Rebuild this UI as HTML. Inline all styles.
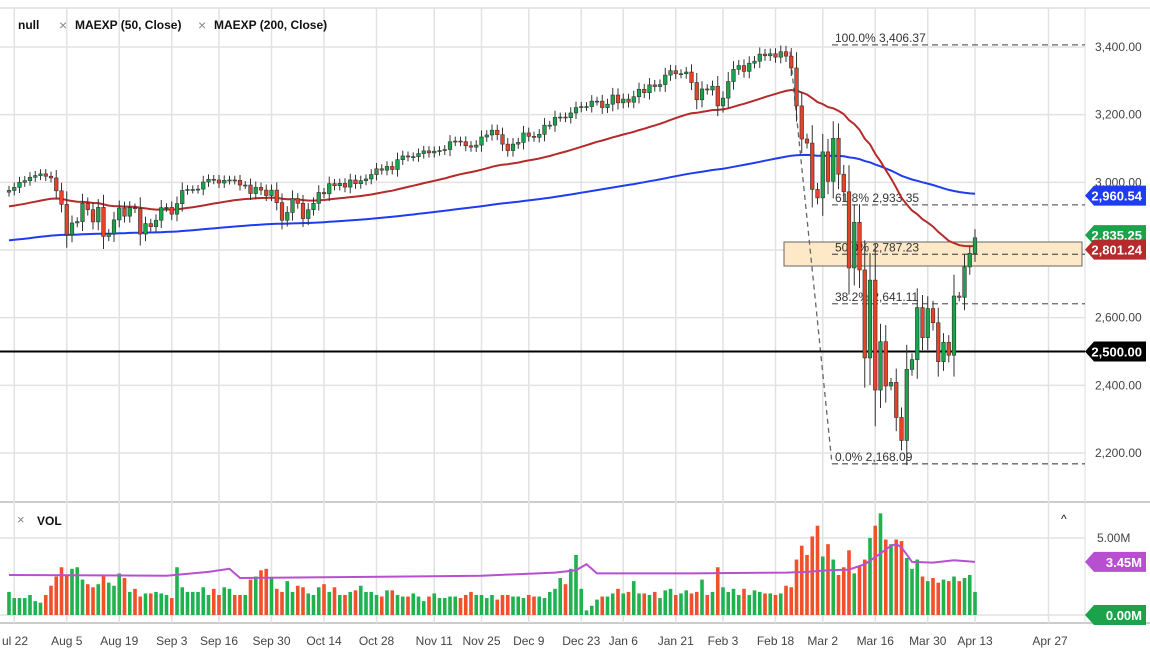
<!DOCTYPE html>
<html><head><meta charset="utf-8"><style>
body{margin:0;background:#fff;}
svg{display:block;font-family:"Liberation Sans",sans-serif;}
</style></head><body>
<svg id="c" width="1150" height="655"></svg>
<script>
const closes=[2976,2985,3000,3005,3015,3020,3025,3018,3013,2975,2935,
2845,2880,2884,2938,2919,2883,2926,2840,2848,2889,2924,2900,2925,2922,2847,2878,2869,2888,2925,2926,
2906,2937,2976,2979,2979,2980,3001,3009,3007,2998,3006,3007,3006,2992,2992,2967,2985,2977,2961,2977,
2940,2888,2911,2952,2938,2893,2919,2938,2970,2966,2996,2990,2997,2986,3007,2996,3005,3010,3023,3040,3036,3047,3038,
3067,3078,3075,3076,3085,3093,3087,3092,3094,3097,3120,3122,3120,3108,3104,3110,3134,3140,3154,3141,
3113,3094,3113,3118,3146,3136,3133,3142,3169,3169,3192,3193,3191,3205,3221,3224,3224,3240,3240,3221,3231,
3258,3235,3246,3237,3253,3275,3265,3288,3283,3289,3317,3330,3321,3321,3326,3295,3244,3276,3273,3284,3226,
3249,3298,3334,3345,3328,3352,3358,3379,3374,3380,3370,3386,3373,3338,3226,3128,3116,2979,2954,
3090,3003,3130,3024,2972,2747,2882,2741,2481,2711,2386,2529,2398,2409,2305,2237,2447,2476,2630,2541,2627,2585,
2470,2527,2489,2664,2660,2750,2790,2836];
const volumes=[1.5,1.1,1.1,1.1,1.3,0.9,0.8,1.3,1.9,2.5,3.1,
2.6,3.0,3.1,2.3,2.0,1.8,2.0,2.6,2.1,1.9,2.7,2.4,1.5,1.7,1.2,1.4,1.4,1.5,1.4,1.3,
1.1,3.1,1.8,1.5,1.5,1.5,1.8,1.3,1.7,1.3,1.8,1.7,1.3,1.3,1.3,2.3,2.5,2.9,3.0,2.4,
1.7,1.5,2.2,1.5,1.9,1.8,1.4,1.3,1.8,2.0,1.5,1.8,1.3,1.3,1.5,1.6,1.9,1.5,1.5,1.3,1.2,1.6,1.6,
1.3,1.2,1.2,1.4,1.2,0.9,1.2,1.4,1.1,1.1,1.2,1.2,1.1,1.3,1.5,1.3,1.3,1.1,1.3,1.0,
1.3,1.3,1.2,1.2,1.1,1.3,1.2,1.2,1.1,1.5,1.7,2.4,2.0,3.0,3.9,1.7,0.3,0.6,1.0,1.2,1.2,
1.4,1.7,1.4,1.5,2.2,1.4,1.4,1.3,1.5,1.1,1.6,1.7,1.3,1.4,1.6,1.4,1.5,2.3,1.3,1.5,3.1,
1.8,1.5,1.7,1.3,1.7,1.3,1.6,1.5,1.4,1.4,1.3,1.4,1.9,1.8,3.6,4.5,3.9,5.1,5.8,
3.8,4.6,3.6,2.6,3.1,4.2,2.7,3.2,3.6,5.0,5.8,6.6,4.9,4.6,4.9,4.8,3.7,3.0,3.6,2.5,2.2,2.4,
2.1,2.3,2.2,2.5,2.2,2.4,2.6,1.5];
const volMaIdx=[0,30,38,42,44,60,90,104,108,110,112,130,148,152,156,160,163,166,168,169,170,172,176,180,184];
const volMaVal=[2.6,2.55,2.8,3.0,2.4,2.45,2.55,2.75,2.9,3.3,2.7,2.7,2.75,2.8,2.9,2.95,3.3,4.0,4.5,4.6,4.4,3.45,3.4,3.55,3.45];
const ema50Seed=2927, ema200Seed=2827;
const dateLabels=["ul 22","Aug 5","Aug 19","Sep 3","Sep 16","Sep 30","Oct 14","Oct 28","Nov 11","Nov 25","Dec 9","Dec 23","Jan 6","Jan 21","Feb 3","Feb 18","Mar 2","Mar 16","Mar 30","Apr 13","Apr 27"];
const dateIdx=[1,11,21,31,40,50,60,70,81,90,99,109,117,127,136,146,155,165,175,184,198];
const priceTicks=[3400,3200,3000,2800,2600,2400,2200];
const priceTickLabels=["3,400.00","3,200.00","3,000.00","","2,600.00","2,400.00","2,200.00"];
const fibLevels=[3406.37,2933.35,2787.23,2641.11,2168.09];
const fibLabels=["100.0% 3,406.37","61.8% 2,933.35","50.0% 2,787.23","38.2% 2,641.11","0.0% 2,168.09"];

const svg=document.getElementById('c');
const NS='http://www.w3.org/2000/svg';
function mk(tag,attrs,parent){const e=document.createElementNS(NS,tag);for(const k in attrs)e.setAttribute(k,attrs[k]);(parent||svg).appendChild(e);return e;}
const X=i=>9+i*5.25;
const Y=p=>47+(3400-p)*0.33833;
const VY=v=>615-v*15.4;
const PR=1085;

// frame
mk('line',{x1:0,y1:8,x2:1150,y2:8,stroke:'#ccc','stroke-width':1});
mk('line',{x1:0,y1:502,x2:1150,y2:502,stroke:'#ccc','stroke-width':2});
mk('line',{x1:0,y1:623,x2:1150,y2:623,stroke:'#ccc','stroke-width':2});
mk('line',{x1:PR,y1:8,x2:PR,y2:623,stroke:'#ddd','stroke-width':1});
// grid
dateIdx.forEach(i=>{const x=X(i);mk('line',{x1:x,y1:8,x2:x,y2:623,stroke:'#e2e2e2','stroke-width':1.5});});
priceTicks.forEach(p=>{mk('line',{x1:0,y1:Y(p),x2:PR,y2:Y(p),stroke:'#e2e2e2','stroke-width':1.5});});
[0,5].forEach(v=>mk('line',{x1:0,y1:VY(v),x2:PR,y2:VY(v),stroke:'#e2e2e2','stroke-width':1.5}));

// price axis labels
priceTicks.forEach((p,k)=>{if(!priceTickLabels[k])return;const t=mk('text',{x:1095,y:Y(p)+4,'font-size':12,fill:'#444'});t.textContent=priceTickLabels[k];

});

// fib zone rectangle
const zr=mk('rect',{x:784,y:242,width:298,height:24,fill:'#fde8c8',stroke:'#666','stroke-width':1});



// fib diagonal
mk('line',{x1:790,y1:Y(3386),x2:832,y2:Y(2168.09),stroke:'#666','stroke-width':1.3,'stroke-dasharray':'5,4'});
fibLevels.forEach((p,k)=>{
 const l=mk('line',{x1:832,y1:Y(p),x2:PR,y2:Y(p),stroke:'#666','stroke-width':1.3,'stroke-dasharray':'6,4'});
 
 
 const t=mk('text',{x:835,y:Y(p)-3,'font-size':12,fill:'#333'});t.textContent=fibLabels[k];
 
 
});

// EMAs
function ema(seed,n){const a=2/(n+1);let v=seed;return closes.map(c=>(v=v+a*(c-v)));}
const e50=ema(ema50Seed,50),e200=ema(ema200Seed,200);
function path(arr){return arr.map((v,i)=>(i?'L':'M')+X(i).toFixed(1)+','+Y(v).toFixed(1)).join('');}
const p200=mk('path',{d:path(e200),fill:'none',stroke:'#1f3cf0','stroke-width':2});


const p50=mk('path',{d:path(e50),fill:'none',stroke:'#b52a2a','stroke-width':2});



// 2500 line
const hl=mk('line',{x1:0,y1:Y(2500),x2:PR,y2:Y(2500),stroke:'#000','stroke-width':2});



// candles
closes.forEach((c,i)=>{
 const o=i?closes[i-1]:c-5;
 const body=Math.abs(c-o);
 const hi=Math.max(o,c)+body*0.3+c*0.004, lo=Math.min(o,c)-body*0.3-c*0.004;
 const x=X(i);
 const g=mk('g',{});
 
 
 mk('line',{x1:x,y1:Y(hi),x2:x,y2:Y(lo),stroke:'#333','stroke-width':1},g);
 const top=Y(Math.max(o,c)),h=Math.max(1,Y(Math.min(o,c))-top);
 mk('rect',{x:x-1.8,y:top,width:3.6,height:h,fill:c>=o?'#1ba34b':'#e4432a',stroke:'#333','stroke-width':0.6},g);
});

// volume
volumes.forEach((v,i)=>{
 const up=i?closes[i]>=closes[i-1]:true;
 const r=mk('rect',{x:X(i)-1.8,y:VY(v),width:3.6,height:v*15.4,fill:up?'#1fb24e':'#f2502a'});
 
 
});
const vm=mk('path',{d:volMaIdx.map((i,k)=>(k?'L':'M')+X(i).toFixed(1)+','+VY(volMaVal[k]).toFixed(1)).join(''),fill:'none',stroke:'#b84fd0','stroke-width':2});



// date labels
dateLabels.forEach((d,k)=>{const x=k==dateLabels.length-1?1050:X(dateIdx[k]);const t=mk('text',{x:x,y:645,'font-size':12,fill:'#444','text-anchor':k==0?'start':'middle'});if(k==0)t.setAttribute('x',2);t.textContent=d;

});

// tags
function tag(y,txt,col,name){
 const g=mk('g',{});
 
 
 mk('path',{d:`M1085,${y} L1094,${y-10} L1146,${y-10} L1146,${y+10} L1094,${y+10} Z`,fill:col},g);
 const t=mk('text',{x:1142,y:y+5,'font-size':13,'font-weight':'bold',fill:'#fff','text-anchor':'end'},g);t.textContent=txt;
}
tag(Y(2960.54),'2,960.54','#1f3cf0','ema-200-value-tag');
tag(Y(2835.25)-3,'2,835.25','#1ba34b','last-price-tag');
tag(Y(2801.24),'2,801.24','#b52a2a','ema-50-value-tag');
tag(Y(2500),'2,500.00','#000','support-value-tag');
tag(VY(3.45),'3.45M','#b84fd0','volume-average-tag');
tag(VY(0),'0.00M','#1ba34b','volume-zero-tag');
const v5=mk('text',{x:1097,y:VY(5)+4,'font-size':12,fill:'#444'});v5.textContent='5.00M';


</script>
<svg width="0" height="0"></svg>
<div style="position:absolute;left:0;top:0;font:bold 12px 'Liberation Sans',sans-serif;color:#111;">
 <span style="position:absolute;left:18px;top:18px;">null</span>
 <span style="position:absolute;left:59px;top:17px;color:#888;font-weight:normal;font-size:14px;">×</span>
 <span style="position:absolute;left:75px;top:18px;white-space:nowrap;">MAEXP (50, Close)</span>
 <span style="position:absolute;left:198px;top:17px;color:#888;font-weight:normal;font-size:14px;">×</span>
 <span style="position:absolute;left:214px;top:18px;white-space:nowrap;">MAEXP (200, Close)</span>
 <span style="position:absolute;left:17px;top:512px;color:#888;font-weight:normal;font-size:13px;">×</span>
 <span style="position:absolute;left:37px;top:514px;">VOL</span>
 <span style="position:absolute;left:1061px;top:512px;font-weight:normal;">^</span>
</div>
</body></html>
